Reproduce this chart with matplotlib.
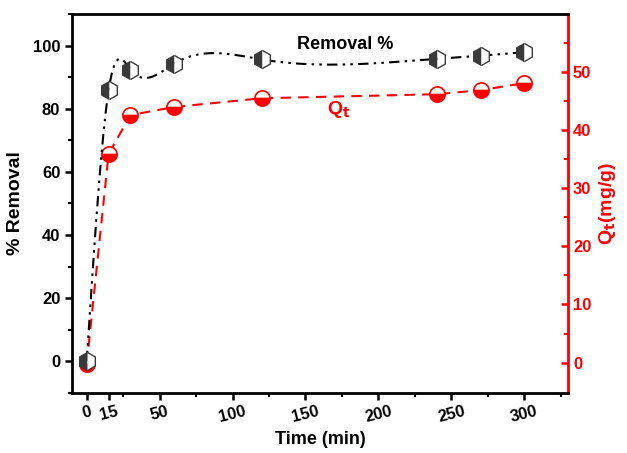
import matplotlib.pyplot as plt
import numpy as np

plt.rcParams['font.family'] = ['Liberation Sans', 'DejaVu Sans']
plt.rcParams['font.weight'] = 'bold'

# data
time_min = [0, 15, 30, 60, 120, 240, 270, 300]
removal_pct = [0, 85.8, 92.4, 94.3, 95.6, 95.8, 96.8, 97.9]
qt_mg_g = [-0.3, 35.9, 42.6, 44.0, 45.5, 46.2, 46.9, 48.1]

x_ticks = [0, 15, 50, 100, 150, 200, 250, 300]
x_tick_labels = ['0', '15', '50', '100', '150', '200', '250', '300']


def natural_spline(x, y, xs):
    # natural cubic spline through the points, only used to draw the smooth curve
    x = np.asarray(x, float)
    y = np.asarray(y, float)
    n = len(x)
    h = np.diff(x)
    A = np.zeros((n, n))
    b = np.zeros(n)
    A[0, 0] = 1
    A[-1, -1] = 1
    for i in range(1, n - 1):
        A[i, i - 1] = h[i - 1]
        A[i, i] = 2 * (h[i - 1] + h[i])
        A[i, i + 1] = h[i]
        b[i] = 6 * ((y[i + 1] - y[i]) / h[i] - (y[i] - y[i - 1]) / h[i - 1])
    M = np.linalg.solve(A, b)
    idx = np.clip(np.searchsorted(x, xs) - 1, 0, n - 2)
    x0, x1 = x[idx], x[idx + 1]
    hh = x1 - x0
    t0 = x1 - xs
    t1 = xs - x0
    return (M[idx] * t0**3 / (6 * hh) + M[idx + 1] * t1**3 / (6 * hh)
            + (y[idx] / hh - M[idx] * hh / 6) * t0
            + (y[idx + 1] / hh - M[idx + 1] * hh / 6) * t1)


fig = plt.figure(figsize=(6.27, 4.53), dpi=100)
ax = fig.add_axes([0.115, 0.133, 0.791, 0.836])
ax2 = ax.twinx()

xs = np.linspace(0, 300, 600)
ax.plot(xs, natural_spline(time_min, removal_pct, xs), color='black', lw=1.5,
        ls=(0, (5, 2.5, 1.2, 2.5, 1.2, 2.5)), zorder=1)
ax.plot(time_min, removal_pct, ls='none', marker='h', markersize=13,
        fillstyle='left', markerfacecolor='#3a3a3a', markerfacecoloralt='white',
        markeredgecolor='#3a3a3a', markeredgewidth=1.0, zorder=2)

ax2.plot(time_min, qt_mg_g, color='red', lw=1.5, ls=(0, (5, 3.5)),
         marker='o', markersize=11, fillstyle='bottom',
         markerfacecolor='red', markerfacecoloralt='white',
         markeredgecolor='red', markeredgewidth=1.2, zorder=3)

ax.set_zorder(ax2.get_zorder() + 1)
ax.patch.set_visible(False)

ax.set_xlim(-10, 330)
ax.set_ylim(-10, 110)
ax2.set_ylim(-5.2, 60)

ax.set_xticks(x_ticks)
ax.set_xticklabels(x_tick_labels, rotation=14)
ax.set_xticks([25, 75, 125, 175, 225, 275, 325], minor=True)
ax.set_yticks([0, 20, 40, 60, 80, 100])
ax.set_yticks([-10, 10, 30, 50, 70, 90, 110], minor=True)
ax2.set_yticks([0, 10, 20, 30, 40, 50])
ax2.set_yticks([5, 15, 25, 35, 45, 55], minor=True)

ax.tick_params(axis='both', which='major', direction='out', length=5, width=1.8,
               labelsize=12)
ax.tick_params(axis='both', which='minor', direction='out', length=3, width=1.5)
ax.tick_params(axis='x', pad=3)
ax.tick_params(right=False)
ax2.tick_params(axis='y', which='major', direction='in', length=5, width=1.8,
                colors='red', labelsize=12)
ax2.tick_params(axis='y', which='minor', direction='in', length=3, width=1.5,
                colors='red')

for s in ['left', 'bottom', 'top']:
    ax.spines[s].set_linewidth(2)
ax.spines['right'].set_visible(False)
ax2.spines['right'].set_color('red')
ax2.spines['right'].set_linewidth(2)
for s in ['left', 'bottom', 'top']:
    ax2.spines[s].set_visible(False)

ax.set_xlabel('Time (min)', fontsize=13, fontweight='bold', labelpad=4)
ax.set_ylabel('% Removal', fontsize=14, fontweight='bold', labelpad=6)
ax2.set_ylabel(r'Q$_\mathbf{t}$(mg/g)', fontsize=14, fontweight='bold',
               color='red', labelpad=4)

ax.text(177, 100.5, 'Removal %', fontsize=13, fontweight='bold', ha='center',
        va='center', color='black')
ax2.text(173, 43.5, r'Q$_\mathbf{t}$', fontsize=14, fontweight='bold',
         ha='center', va='center', color='red')

fig.savefig('out.png', dpi=100)
